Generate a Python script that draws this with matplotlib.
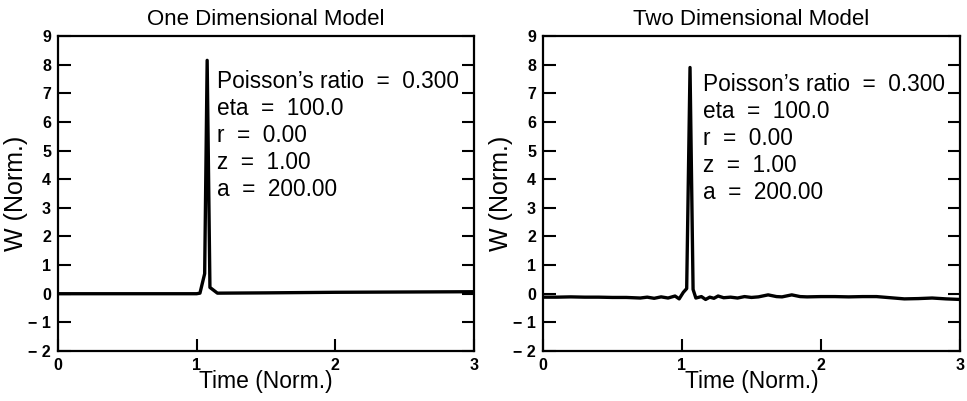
import numpy as np
import matplotlib
matplotlib.use("Agg")
import matplotlib.pyplot as plt

plt.rcParams['font.family'] = ['Liberation Sans', 'DejaVu Sans']

# one dimensional model
t_1d = [0.0, 0.5, 1.0, 1.024, 1.058, 1.076, 1.096, 1.15, 1.5, 2.0, 2.5, 3.0]
w_1d = [0.0, 0.0, 0.0, 0.02, 0.7, 8.15, 0.22, 0.02, 0.03, 0.05, 0.06, 0.07]

# two dimensional model
t_2d = [0.0, 0.1, 0.2, 0.3, 0.4, 0.5, 0.6, 0.7, 0.75, 0.8, 0.85, 0.9, 0.95,
        0.98, 1.01, 1.034, 1.058, 1.08, 1.1, 1.14, 1.17, 1.2, 1.23, 1.26,
        1.3, 1.35, 1.4, 1.45, 1.5, 1.55, 1.62, 1.68, 1.72, 1.79, 1.85, 1.9,
        2.0, 2.1, 2.2, 2.3, 2.4, 2.5, 2.6, 2.7, 2.8, 2.9, 3.0]
w_2d = [-0.12, -0.12, -0.11, -0.12, -0.12, -0.13, -0.13, -0.15, -0.12, -0.16,
        -0.11, -0.15, -0.08, -0.18, 0.05, 0.18, 7.9, 0.15, -0.15, -0.1, -0.2,
        -0.12, -0.16, -0.08, -0.14, -0.12, -0.15, -0.1, -0.13, -0.11, -0.04,
        -0.1, -0.11, -0.04, -0.1, -0.11, -0.1, -0.1, -0.11, -0.1, -0.1, -0.14,
        -0.18, -0.17, -0.15, -0.18, -0.2]

titles = ["One Dimensional Model", "Two Dimensional Model"]
params = ["Poisson’s ratio  =  0.300", "eta  =  100.0", "r  =  0.00",
          "z  =  1.00", "a  =  200.00"]
ytick_labels = ["− 2", "− 1", "0", "1", "2", "3", "4", "5", "6", "7", "8", "9"]

fig = plt.figure(figsize=(9.67, 4.01), dpi=100)
ax1 = fig.add_axes([0.060, 0.1247, 0.430, 0.7855])
ax2 = fig.add_axes([0.5615, 0.1247, 0.4312, 0.7855])

for ax, t, w, title, ty in [(ax1, t_1d, w_1d, titles[0], 7.4),
                            (ax2, t_2d, w_2d, titles[1], 7.3)]:
    ax.plot(t, w, color='black', lw=2.4, solid_joinstyle='round')
    ax.set_xlim(0, 3)
    ax.set_ylim(-2, 9)
    ax.set_xticks([0, 1, 2, 3])
    ax.set_yticks(np.arange(-2, 10, 1))
    ax.set_yticklabels(ytick_labels)
    ax.tick_params(direction='in', length=9, width=1.5, labelsize=11.5,
                   right=True, top=False, pad=5)
    for lab in ax.get_xticklabels() + ax.get_yticklabels():
        lab.set_fontweight('bold')
    for s in ax.spines.values():
        s.set_linewidth(1.6)
    ax.set_title(title, fontsize=16, pad=8)
    ax.set_xlabel("Time (Norm.)", fontsize=16.5, labelpad=-2)
    ax.set_ylabel("W (Norm.)", fontsize=18, labelpad=0)
    for i, line in enumerate(params):
        ax.text(1.15, ty - 0.94 * i, line, fontsize=16.3, va='center', ha='left')

fig.savefig("out.png", dpi=100)
